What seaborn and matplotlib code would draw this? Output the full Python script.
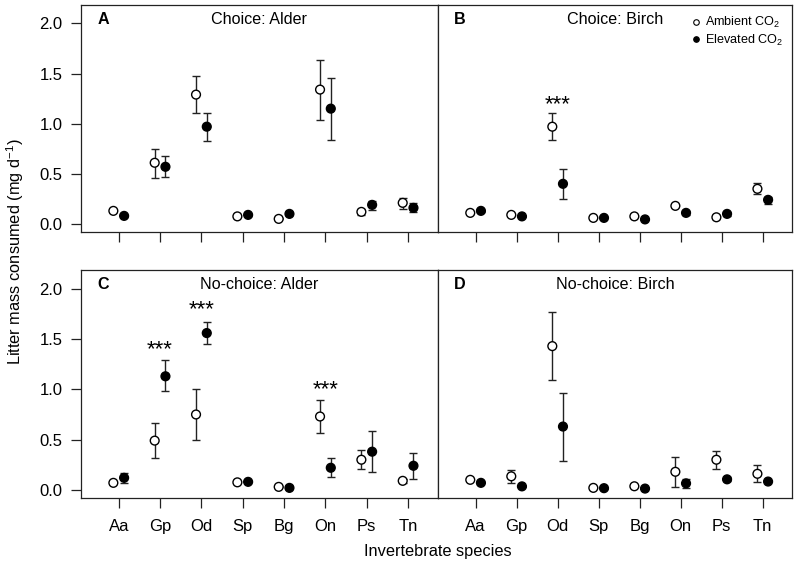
import numpy as np
import pandas as pd
import matplotlib
matplotlib.use("Agg")
import matplotlib.pyplot as plt
from matplotlib.lines import Line2D
import seaborn as sns

sns.set_theme(style="ticks")
plt.rcParams["font.family"] = ["Liberation Sans", "DejaVu Sans"]
plt.rcParams["mathtext.fontset"] = "custom"
plt.rcParams["mathtext.rm"] = "Liberation Sans"
plt.rcParams["mathtext.it"] = "Liberation Sans:italic"
plt.rcParams["mathtext.bf"] = "Liberation Sans:bold"
plt.rcParams["text.color"] = "black"
plt.rcParams["xtick.labelcolor"] = "black"
plt.rcParams["ytick.labelcolor"] = "black"

# ---------------------------------------------------------------
# data: mean, lower bar end, upper bar end
# ---------------------------------------------------------------
species = ["Aa", "Gp", "Od", "Sp", "Bg", "On", "Ps", "Tn"]

# A  Choice: Alder
a_amb     = [0.13, 0.61, 1.29, 0.075, 0.05, 1.34, 0.12, 0.21]
a_amb_lo  = [0.12, 0.46, 1.11, 0.07, 0.045, 1.04, 0.09, 0.15]
a_amb_hi  = [0.14, 0.75, 1.48, 0.08, 0.055, 1.64, 0.15, 0.26]
a_elv     = [0.08, 0.57, 0.97, 0.09, 0.10, 1.15, 0.19, 0.16]
a_elv_lo  = [0.07, 0.47, 0.83, 0.08, 0.09, 0.84, 0.14, 0.12]
a_elv_hi  = [0.09, 0.68, 1.11, 0.10, 0.11, 1.46, 0.23, 0.21]

# B  Choice: Birch
b_amb     = [0.11, 0.09, 0.97, 0.06, 0.075, 0.18, 0.066, 0.35]
b_amb_lo  = [0.10, 0.085, 0.84, 0.055, 0.07, 0.17, 0.05, 0.30]
b_amb_hi  = [0.12, 0.095, 1.11, 0.065, 0.08, 0.19, 0.08, 0.41]
b_elv     = [0.13, 0.075, 0.40, 0.06, 0.045, 0.11, 0.10, 0.24]
b_elv_lo  = [0.12, 0.07, 0.25, 0.055, 0.04, 0.09, 0.08, 0.20]
b_elv_hi  = [0.14, 0.08, 0.55, 0.065, 0.05, 0.13, 0.12, 0.27]

# C  No-choice: Alder
c_amb     = [0.07, 0.49, 0.75, 0.075, 0.03, 0.73, 0.30, 0.09]
c_amb_lo  = [0.06, 0.32, 0.50, 0.07, 0.025, 0.57, 0.21, 0.07]
c_amb_hi  = [0.08, 0.67, 1.00, 0.08, 0.035, 0.89, 0.40, 0.11]
c_elv     = [0.12, 1.13, 1.56, 0.08, 0.02, 0.22, 0.38, 0.24]
c_elv_lo  = [0.07, 0.98, 1.45, 0.075, 0.015, 0.13, 0.18, 0.11]
c_elv_hi  = [0.17, 1.29, 1.67, 0.085, 0.025, 0.32, 0.59, 0.37]

# D  No-choice: Birch
d_amb     = [0.10, 0.135, 1.43, 0.02, 0.036, 0.18, 0.30, 0.16]
d_amb_lo  = [0.095, 0.07, 1.09, 0.015, 0.03, 0.03, 0.21, 0.075]
d_amb_hi  = [0.105, 0.20, 1.77, 0.025, 0.04, 0.33, 0.39, 0.25]
d_elv     = [0.07, 0.035, 0.63, 0.017, 0.013, 0.065, 0.105, 0.083]
d_elv_lo  = [0.065, 0.03, 0.29, 0.012, 0.01, 0.016, 0.085, 0.075]
d_elv_hi  = [0.075, 0.04, 0.96, 0.022, 0.016, 0.11, 0.125, 0.09]

# significance marks: (panel, species, height)
stars = [("B", "Od", 1.19), ("C", "Gp", 1.39), ("C", "Od", 1.79), ("C", "On", 1.00)]

panels = {
    "A": ("Choice: Alder", a_amb, a_amb_lo, a_amb_hi, a_elv, a_elv_lo, a_elv_hi),
    "B": ("Choice: Birch", b_amb, b_amb_lo, b_amb_hi, b_elv, b_elv_lo, b_elv_hi),
    "C": ("No-choice: Alder", c_amb, c_amb_lo, c_amb_hi, c_elv, c_elv_lo, c_elv_hi),
    "D": ("No-choice: Birch", d_amb, d_amb_lo, d_amb_hi, d_elv, d_elv_lo, d_elv_hi),
}

# ---------------------------------------------------------------
# layout
# ---------------------------------------------------------------
fig = plt.figure(figsize=(7.99, 5.69), dpi=100)
L, M, R = 0.101, 0.548, 0.9916
top_b, top_h = 0.5917, 0.3995
bot_b, bot_h = 0.1242, 0.4007
rects = {
    "A": [L, top_b, M - L, top_h],
    "B": [M, top_b, R - M, top_h],
    "C": [L, bot_b, M - L, bot_h],
    "D": [M, bot_b, R - M, bot_h],
}

x = np.arange(1, len(species) + 1)
off = 0.13

for key, (title, am, am_lo, am_hi, el, el_lo, el_hi) in panels.items():
    ax = fig.add_axes(rects[key])
    am, am_lo, am_hi = map(np.array, (am, am_lo, am_hi))
    el, el_lo, el_hi = map(np.array, (el, el_lo, el_hi))

    ax.errorbar(x - off, am, yerr=[am - am_lo, am_hi - am], fmt="none",
                ecolor="#222222", elinewidth=1, capsize=2.8, capthick=1, zorder=2)
    ax.errorbar(x + off, el, yerr=[el - el_lo, el_hi - el], fmt="none",
                ecolor="#222222", elinewidth=1, capsize=2.8, capthick=1, zorder=2)

    df = pd.DataFrame({
        "pos": np.concatenate([x - off, x + off]),
        "val": np.concatenate([am, el]),
        "co2": ["Ambient"] * len(x) + ["Elevated"] * len(x),
    })
    sns.scatterplot(data=df, x="pos", y="val", hue="co2",
                    palette={"Ambient": "white", "Elevated": "black"},
                    edgecolor="black", linewidth=1, s=40, legend=False,
                    ax=ax, zorder=3)

    for p, sp, h in stars:
        if p == key:
            ax.text(species.index(sp) + 1, h, "***", ha="center", va="center",
                    fontsize=16)

    ax.set_xlim(0.08, 8.72)
    ax.set_ylim(-0.084, 2.184)
    ax.set_xticks(x)
    ax.set_yticks([0, 0.5, 1.0, 1.5, 2.0])
    ax.set_xlabel("")
    ax.set_ylabel("")
    for s in ax.spines.values():
        s.set_visible(True)
        s.set_linewidth(0.9)
        s.set_color("#222222")
    ax.tick_params(axis="both", length=7, width=0.9, color="#222222",
                   labelsize=12, pad=6)
    ax.tick_params(axis="x", pad=8)
    if key in ("A", "B"):
        ax.set_xticklabels([])
    else:
        ax.set_xticklabels(species)
    if key in ("B", "D"):
        ax.tick_params(axis="y", left=False, labelleft=False)
    else:
        ax.set_yticklabels(["0.0", "0.5", "1.0", "1.5", "2.0"])

    ax.text(0.5, 0.938, title, transform=ax.transAxes, ha="center",
            va="center", fontsize=11.6)
    ax.text(0.063, 0.938, key, transform=ax.transAxes, ha="center",
            va="center", fontsize=11.6, fontweight="bold")

    if key == "B":
        handles = [
            Line2D([], [], ls="none", marker="o", ms=4, mfc="white",
                   mec="black", mew=0.8, label="Ambient CO$_2$"),
            Line2D([], [], ls="none", marker="o", ms=4, mfc="black",
                   mec="black", mew=0.8, label="Elevated CO$_2$"),
        ]
        ax.legend(handles=handles, loc="upper right", frameon=False,
                  fontsize=9.1, handletextpad=0.1, handlelength=1.2,
                  labelspacing=0.2, borderaxespad=0.3,
                  bbox_to_anchor=(1.0, 0.995))

fig.text(0.019, 0.5577, "Litter mass consumed (mg d$^{-1}$)", rotation=90,
         ha="center", va="center", fontsize=11.8)
fig.text(0.548, 0.03, "Invertebrate species", ha="center", va="center",
         fontsize=11.8)

fig.savefig("out.png", dpi=100)
